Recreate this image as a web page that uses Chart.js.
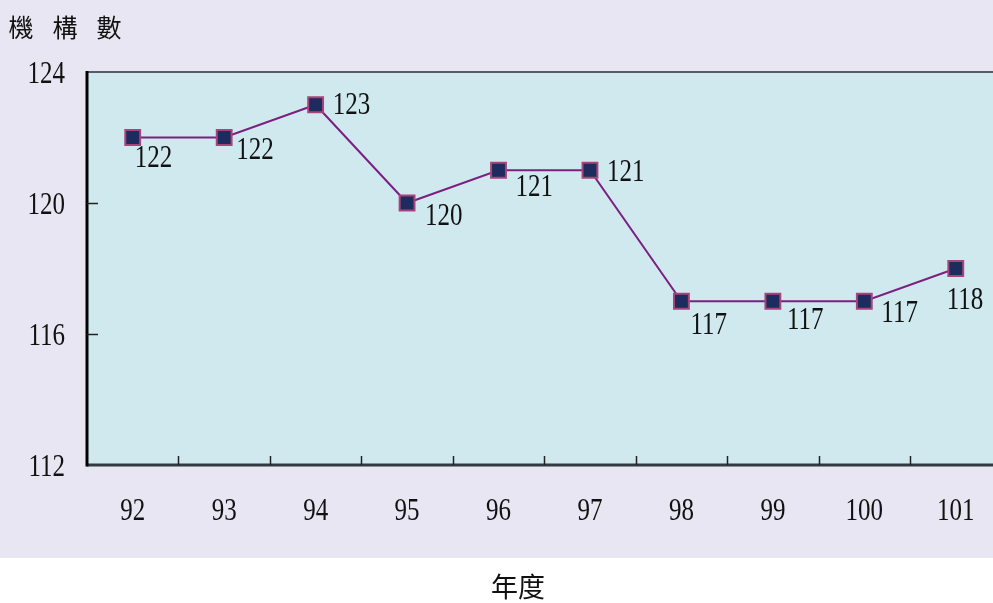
<!DOCTYPE html>
<html>
<head>
<meta charset="utf-8">
<script src="https://cdn.jsdelivr.net/npm/chart.js@4/dist/chart.umd.min.js"></script>
<style>
html,body{margin:0;padding:0;background:#ffffff;overflow:hidden;width:993px;height:603px;}
#wrap{position:relative;width:1014px;height:603px;}
</style>
</head>
<body>
<div id="wrap"><canvas id="c" width="1014" height="603" style="width:1014px;height:603px"></canvas></div>
<script>
const categories = ['92','93','94','95','96','97','98','99','100','101'];
const institutions = [122,122,123,120,121,121,117,117,117,118];
const yTicks = [112,116,120,124];
const yTitle = ['機','構','數'];
const xTitle = '年度';

const SERIF = '"Liberation Serif", "DejaVu Serif", serif';
const CJK = '"Noto Sans CJK TC", "Noto Sans CJK SC", sans-serif';

// label placement relative to each point (style, not data)
const labelOffsets = [[2,21],[12,13],[17,1],[18,14],[17,17],[17,2],[9,24],[14,19],[17,12],[-9,32]];

function tallText(ctx, txt, x, y, align) {
  ctx.save();
  ctx.translate(x, y);
  ctx.scale(1, 1.28);
  ctx.textAlign = align;
  ctx.textBaseline = 'middle';
  ctx.fillText(txt, 0, 0);
  ctx.restore();
}

const decor = {
  id: 'decor',
  beforeDraw(chart) {
    const ctx = chart.ctx, a = chart.chartArea;
    ctx.save();
    ctx.fillStyle = '#ffffff';
    ctx.fillRect(0, 0, chart.width, chart.height);
    ctx.fillStyle = '#E8E6F2';
    ctx.fillRect(0, 0, chart.width, 558);
    ctx.fillStyle = '#D0E9EF';
    ctx.fillRect(a.left, a.top, a.right - a.left, a.bottom - a.top);
    ctx.restore();
  },
  afterDatasetsDraw(chart) {
    const ctx = chart.ctx, a = chart.chartArea;
    const xs = chart.scales.x, ys = chart.scales.y;
    ctx.save();
    ctx.strokeStyle = '#5a5a66';
    ctx.lineWidth = 2;
    ctx.beginPath(); ctx.moveTo(a.left, a.top); ctx.lineTo(a.right, a.top); ctx.stroke();
    ctx.strokeStyle = '#333a3f';
    ctx.lineWidth = 3;
    ctx.beginPath(); ctx.moveTo(a.left, a.bottom); ctx.lineTo(a.right, a.bottom); ctx.stroke();
    ctx.strokeStyle = '#000000';
    ctx.lineWidth = 3;
    ctx.beginPath(); ctx.moveTo(a.left, a.top - 1); ctx.lineTo(a.left, a.bottom + 1.5); ctx.stroke();
    ctx.lineWidth = 1.5;
    ctx.strokeStyle = '#222';
    for (let i = 0; i < categories.length - 1; i++) {
      const x = Math.round((xs.getPixelForValue(i) + xs.getPixelForValue(i + 1)) / 2) + 0.5;
      ctx.beginPath(); ctx.moveTo(x, a.bottom); ctx.lineTo(x, a.bottom - 9); ctx.stroke();
    }
    yTicks.forEach(v => {
      if (v === ys.min || v === ys.max) return;
      const y = Math.round(ys.getPixelForValue(v)) + 0.5;
      ctx.beginPath(); ctx.moveTo(a.left, y); ctx.lineTo(a.left + 11, y); ctx.stroke();
    });
    ctx.fillStyle = '#111';
    ctx.font = '25px ' + SERIF;
    yTicks.forEach(v => tallText(ctx, String(v), a.left - 22, ys.getPixelForValue(v) + 3, 'right'));
    categories.forEach((c, i) => tallText(ctx, c, xs.getPixelForValue(i), a.bottom + 47, 'center'));
    const meta = chart.getDatasetMeta(0);
    meta.data.forEach((pt, i) => {
      const o = labelOffsets[i];
      tallText(ctx, String(institutions[i]), pt.x + o[0], pt.y + o[1], 'left');
    });
    ctx.font = '25px ' + CJK;
    ctx.textBaseline = 'middle';
    ctx.textAlign = 'center';
    yTitle.forEach((ch, i) => ctx.fillText(ch, 21 + i * 44, 27));
    ctx.font = '27px ' + CJK;
    ctx.fillText(xTitle, 518, 587);
    ctx.restore();
  }
};

new Chart(document.getElementById('c'), {
  type: 'line',
  data: {
    labels: categories,
    datasets: [{
      data: institutions,
      borderColor: '#7B2080',
      borderWidth: 2,
      pointStyle: 'rect',
      pointRadius: 10.5,
      pointHoverRadius: 10.5,
      pointBackgroundColor: '#1E2B5E',
      pointBorderColor: '#A8447A',
      pointBorderWidth: 2,
      tension: 0
    }]
  },
  options: {
    responsive: false,
    animation: false,
    events: [],
    layout: { padding: { top: 72, right: 4, left: 0, bottom: 0 } },
    plugins: { legend: { display: false }, tooltip: { enabled: false }, title: { display: false } },
    scales: {
      x: {
        type: 'category',
        offset: true,
        grid: { display: false, drawTicks: false },
        border: { display: false },
        ticks: { display: false },
        afterFit(s) { s.height = 603 - 72 - 393; }
      },
      y: {
        min: 112, max: 124,
        afterBuildTicks(s) { s.ticks = yTicks.map(v => ({ value: v })); },
        grid: { display: false, drawTicks: false },
        border: { display: false },
        ticks: { display: false },
        afterFit(s) { s.width = 87; }
      }
    }
  },
  plugins: [decor]
});
</script>
</body>
</html>
